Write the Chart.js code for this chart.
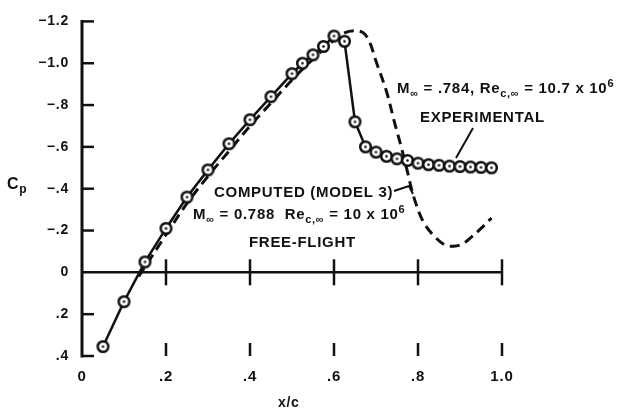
<!DOCTYPE html>
<html>
<head>
<meta charset="utf-8">
<script src="https://cdn.jsdelivr.net/npm/chart.js@4/dist/chart.umd.min.js"></script>
<style>
  html, body { margin: 0; padding: 0; background: #fff; }
  #wrap { width: 618px; height: 408px; }
</style>
</head>
<body>
<div id="wrap"><canvas id="c" width="618" height="408"></canvas></div>
<script>
// ---- data ----
const xExp  = [0.05, 0.10, 0.15, 0.20, 0.25, 0.30, 0.35, 0.40, 0.45, 0.50, 0.525, 0.55, 0.575, 0.60, 0.625,
               0.65, 0.675, 0.70, 0.725, 0.75, 0.775, 0.80, 0.825, 0.85, 0.875, 0.90, 0.925, 0.95, 0.975];
const cpExp = [0.355, 0.14, -0.05, -0.21, -0.36, -0.49, -0.615, -0.73, -0.84, -0.95, -1.00, -1.04, -1.08, -1.13, -1.105,
               -0.72, -0.60, -0.575, -0.555, -0.543, -0.535, -0.522, -0.515, -0.512, -0.508, -0.506, -0.504, -0.502, -0.50];

const xComp  = [0.135, 0.20, 0.25, 0.30, 0.35, 0.40, 0.45, 0.50, 0.55, 0.60, 0.625, 0.65, 0.67, 0.685, 0.70,
                0.725, 0.745, 0.76, 0.775, 0.79, 0.813, 0.84, 0.865, 0.885, 0.905, 0.925, 0.95, 0.975];
const cpComp = [0.02, -0.18, -0.33, -0.46, -0.58, -0.70, -0.81, -0.92, -1.02, -1.11, -1.145, -1.155, -1.145, -1.10, -1.01,
                -0.865, -0.71, -0.60, -0.48, -0.36, -0.24, -0.17, -0.13, -0.125, -0.135, -0.165, -0.21, -0.26];

const xTickValues = [0, 0.2, 0.4, 0.6, 0.8, 1.0];
const xTickLabels = ['0', '.2', '.4', '.6', '.8', '1.0'];
const yTickValues = [-1.2, -1.0, -0.8, -0.6, -0.4, -0.2, 0, 0.2, 0.4];
const yTickLabels = ['\u22121.2', '\u22121.0', '\u2212.8', '\u2212.6', '\u2212.4', '\u2212.2', '0', '.2', '.4'];

// ---- styling ----
const INK = '#111';
const FONT = '"Liberation Sans", Arial, Helvetica, sans-serif';

// circle-with-dot marker
function makeMarker() {
  const c = document.createElement('canvas');
  c.width = 15; c.height = 15;
  const g = c.getContext('2d');
  g.beginPath(); g.arc(7.5, 7.5, 5.3, 0, Math.PI * 2);
  g.fillStyle = '#fff'; g.fill();
  g.lineWidth = 2.5; g.strokeStyle = INK; g.stroke();
  g.beginPath(); g.arc(7.5, 7.5, 1.3, 0, Math.PI * 2);
  g.fillStyle = INK; g.fill();
  return c;
}
const marker = makeMarker();

function drawRich(ctx, x, y, parts, size) {
  let cx = x;
  for (const p of parts) {
    let fs = size, dy = 0;
    if (p.sub) { fs = Math.round(size * 0.75); dy = 4; }
    if (p.sup) { fs = Math.round(size * 0.75); dy = -6; }
    ctx.font = 'bold ' + fs + 'px ' + FONT;
    ctx.fillText(p.t, cx, y + dy);
    cx += ctx.measureText(p.t).width;
  }
}

const axesPlugin = {
  id: 'axesPlugin',
  beforeDraw(chart) {
    chart.ctx.letterSpacing = '0.8px';
  },
  beforeDatasetsDraw(chart) {
    const { ctx, scales: { x, y } } = chart;
    ctx.save();
    ctx.strokeStyle = INK;
    ctx.lineCap = 'butt';
    const x0 = x.getPixelForValue(0);
    const yTop = y.getPixelForValue(yTickValues[0]);
    const yBot = y.getPixelForValue(yTickValues[yTickValues.length - 1]);
    // y axis line
    ctx.lineWidth = 3;
    ctx.beginPath(); ctx.moveTo(x0, yTop - 1.5); ctx.lineTo(x0, yBot + 1.5); ctx.stroke();
    // y ticks (inward)
    ctx.lineWidth = 2.5;
    yTickValues.forEach(v => {
      if (v === 0) return;
      const py = y.getPixelForValue(v);
      ctx.beginPath(); ctx.moveTo(x0, py); ctx.lineTo(x0 + 12, py); ctx.stroke();
    });
    // zero line
    const yz = y.getPixelForValue(0);
    const xEnd = x.getPixelForValue(xTickValues[xTickValues.length - 1]);
    ctx.lineWidth = 2.5;
    ctx.beginPath(); ctx.moveTo(x0, yz); ctx.lineTo(xEnd, yz); ctx.stroke();
    // crossing ticks on zero line and short marks at the bottom
    xTickValues.forEach(v => {
      if (v === 0) return;
      const px = x.getPixelForValue(v);
      ctx.beginPath(); ctx.moveTo(px, yz - 13); ctx.lineTo(px, yz + 13); ctx.stroke();
      ctx.beginPath(); ctx.moveTo(px, yBot - 13); ctx.lineTo(px, yBot); ctx.stroke();
    });
    ctx.restore();
  },
  afterDraw(chart) {
    const { ctx } = chart;
    ctx.save();
    ctx.fillStyle = INK;
    ctx.strokeStyle = INK;
    ctx.textAlign = 'left';
    ctx.textBaseline = 'alphabetic';
    ctx.letterSpacing = '0.7px';

    // axis titles
    drawRich(ctx, 7, 189, [{ t: 'C' }, { t: 'p', sub: true }], 16);
    ctx.font = 'bold 14px ' + FONT;
    ctx.fillText('x/c', 278, 407);

    // experimental annotation
    drawRich(ctx, 397, 93, [
      { t: 'M' }, { t: '\u221E', sub: true }, { t: ' = .784, Re' }, { t: 'c,\u221E', sub: true },
      { t: ' = 10.7 x 10' }, { t: '6', sup: true }
    ], 15);
    ctx.font = 'bold 15px ' + FONT;
    ctx.fillText('EXPERIMENTAL', 420, 122);
    ctx.lineWidth = 2;
    ctx.beginPath(); ctx.moveTo(473, 128); ctx.lineTo(456, 158); ctx.stroke();

    // computed annotation
    ctx.font = 'bold 15px ' + FONT;
    ctx.fillText('COMPUTED (MODEL 3)', 214, 197);
    ctx.beginPath(); ctx.moveTo(394, 191); ctx.lineTo(409, 186); ctx.lineTo(413, 194); ctx.stroke();
    drawRich(ctx, 193, 219, [
      { t: 'M' }, { t: '\u221E', sub: true }, { t: ' = 0.788  Re' }, { t: 'c,\u221E', sub: true },
      { t: ' = 10 x 10' }, { t: '6', sup: true }
    ], 15);
    ctx.font = 'bold 15px ' + FONT;
    ctx.fillText('FREE-FLIGHT', 249, 247);
    ctx.restore();
  }
};

new Chart(document.getElementById('c'), {
  type: 'line',
  data: {
    datasets: [
      {
        label: 'Experimental',
        data: xExp.map((v, i) => ({ x: v, y: cpExp[i] })),
        borderColor: INK,
        borderWidth: 2.5,
        pointStyle: marker,
        pointRadius: 5,
        tension: 0,
        order: 0
      },
      {
        label: 'Computed (Model 3)',
        data: xComp.map((v, i) => ({ x: v, y: cpComp[i] })),
        borderColor: INK,
        borderWidth: 3,
        borderDash: [10, 6],
        pointRadius: 0,
        tension: 0.35,
        order: 1
      }
    ]
  },
  options: {
    responsive: false,
    animation: false,
    events: [],
    layout: { padding: { top: 15, right: 116, left: 0, bottom: 0 } },
    plugins: { legend: { display: false }, tooltip: { enabled: false } },
    scales: {
      x: {
        type: 'linear',
        min: 0, max: 1.0,
        afterBuildTicks: s => { s.ticks = xTickValues.map(v => ({ value: v })); },
        afterFit: s => { s.height = 52; },
        grid: { display: false, drawTicks: false },
        border: { display: false },
        ticks: {
          padding: 12,
          color: INK,
          font: { family: FONT, weight: 'bold', size: 15 },
          maxRotation: 0,
          callback: (v, i) => xTickLabels[i]
        }
      },
      y: {
        type: 'linear',
        min: -1.2, max: 0.4,
        reverse: true,
        afterBuildTicks: s => { s.ticks = yTickValues.map(v => ({ value: v })); },
        afterFit: s => { s.width = 82; },
        grid: { display: false, drawTicks: false },
        border: { display: false },
        ticks: {
          padding: 13,
          color: INK,
          font: { family: FONT, weight: 'bold', size: 14 },
          callback: (v, i) => yTickLabels[i]
        }
      }
    }
  },
  plugins: [axesPlugin]
});
</script>
</body>
</html>
